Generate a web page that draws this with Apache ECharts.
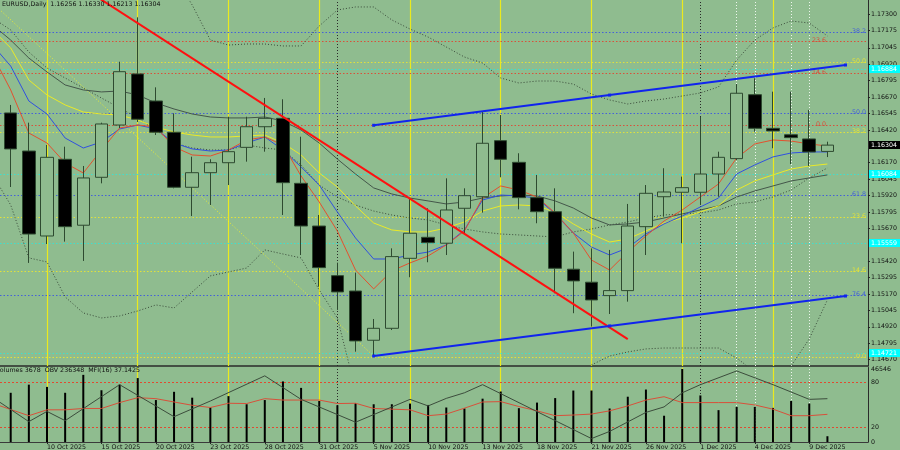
<!DOCTYPE html>
<html><head><meta charset="utf-8">
<script src="https://cdn.jsdelivr.net/npm/echarts@6/dist/echarts.min.js"></script>
<style>html,body{margin:0;padding:0;background:#8fbc8f}#c{width:900px;height:450px}</style>
</head><body><div id="c"></div><script>
const dates = ['7 Oct 2025','8 Oct 2025','9 Oct 2025','10 Oct 2025','13 Oct 2025','14 Oct 2025','15 Oct 2025','16 Oct 2025','17 Oct 2025','20 Oct 2025','21 Oct 2025','22 Oct 2025','23 Oct 2025','24 Oct 2025','27 Oct 2025','28 Oct 2025','29 Oct 2025','30 Oct 2025','31 Oct 2025','3 Nov 2025','4 Nov 2025','5 Nov 2025','6 Nov 2025','7 Nov 2025','10 Nov 2025','11 Nov 2025','12 Nov 2025','13 Nov 2025','14 Nov 2025','17 Nov 2025','18 Nov 2025','19 Nov 2025','20 Nov 2025','21 Nov 2025','24 Nov 2025','25 Nov 2025','26 Nov 2025','27 Nov 2025','28 Nov 2025','1 Dec 2025','2 Dec 2025','3 Dec 2025','4 Dec 2025','5 Dec 2025','8 Dec 2025','9 Dec 2025','10 Dec 2025'];
const open  = [null,1.16549,1.16259,1.15612,1.16196,1.15694,1.16059,1.16457,1.16846,1.16640,1.16402,1.15983,1.16094,1.16170,1.16287,1.16444,1.16508,1.16013,1.15688,1.15310,1.15193,1.14818,1.14909,1.15442,1.15602,1.15557,1.15823,1.15911,1.16338,1.16173,1.15904,1.15797,1.15359,1.15260,1.15158,1.15196,1.15683,1.15911,1.15945,1.15945,1.16084,1.16201,1.16688,1.16432,1.16383,1.16351,1.16256];
const close = [null,1.16275,1.15627,1.16211,1.15683,1.16054,1.16465,1.16863,1.16501,1.16402,1.15983,1.16094,1.16170,1.16254,1.16444,1.16508,1.16018,1.15688,1.15371,1.15186,1.14813,1.14909,1.15455,1.15633,1.15561,1.15810,1.15919,1.16318,1.16196,1.15904,1.15797,1.15366,1.15270,1.15125,1.15196,1.15688,1.15937,1.15947,1.15980,1.16084,1.16211,1.16699,1.16432,1.16412,1.16361,1.16252,1.16304];
const low   = [null,1.15985,1.15407,1.15551,1.15569,1.15422,1.16013,1.16434,1.16480,1.16381,1.15975,1.15764,1.15848,1.16000,1.16178,1.16254,1.15772,1.15467,1.15226,1.15049,1.14731,1.14698,1.14896,1.15298,1.15412,1.15467,1.15633,1.15790,1.16059,1.15815,1.15709,1.15176,1.15024,1.14922,1.15018,1.15112,1.15467,1.15759,1.15557,1.15848,1.15911,1.16191,1.16406,1.16280,1.16160,1.16145,1.16213];
const high  = [null,1.16610,1.16475,1.16305,1.16292,1.16145,1.16475,1.16939,1.17277,1.16744,1.16546,1.16216,1.16196,1.16520,1.16520,1.16663,1.16653,1.16368,1.15772,1.15409,1.15333,1.14980,1.15518,1.15899,1.15823,1.16051,1.15975,1.16559,1.16533,1.16242,1.16077,1.15975,1.15493,1.15518,1.15506,1.15856,1.16000,1.16128,1.16064,1.16518,1.16254,1.16769,1.16813,1.16711,1.16711,1.16572,1.16330];
const maRed    = [1.16990,1.16724,1.16396,1.16320,1.16168,1.16092,1.16267,1.16434,1.16457,1.16442,1.16290,1.16229,1.16221,1.16267,1.16343,1.16366,1.16305,1.16069,1.15871,1.15650,1.15353,1.15209,1.15346,1.15407,1.15460,1.15544,1.15650,1.15901,1.15993,1.15962,1.15909,1.15787,1.15635,1.15429,1.15353,1.15490,1.15612,1.15726,1.15810,1.15909,1.16008,1.16206,1.16313,1.16343,1.16335,1.16313,1.16297];
const maBlue   = [1.17066,1.16906,1.16640,1.16541,1.16358,1.16282,1.16328,1.16427,1.16457,1.16427,1.16320,1.16275,1.16259,1.16267,1.16320,1.16366,1.16267,1.16138,1.16000,1.15795,1.15597,1.15437,1.15437,1.15467,1.15490,1.15544,1.15658,1.15886,1.15924,1.15917,1.15901,1.15780,1.15635,1.15528,1.15467,1.15521,1.15627,1.15704,1.15764,1.15833,1.15901,1.16084,1.16153,1.16214,1.16244,1.16252,1.16252];
const maYellow = [1.17181,1.17044,1.16800,1.16686,1.16610,1.16556,1.16541,1.16533,1.16495,1.16442,1.16404,1.16381,1.16366,1.16366,1.16374,1.16381,1.16320,1.16229,1.16092,1.15985,1.15841,1.15711,1.15658,1.15643,1.15643,1.15673,1.15719,1.15802,1.15841,1.15848,1.15841,1.15795,1.15704,1.15627,1.15566,1.15589,1.15650,1.15711,1.15749,1.15795,1.15841,1.15962,1.16031,1.16077,1.16122,1.16145,1.16160];
const maGray   = [1.17219,1.17104,1.16967,1.16861,1.16762,1.16724,1.16709,1.16716,1.16686,1.16625,1.16579,1.16541,1.16518,1.16511,1.16511,1.16518,1.16488,1.16419,1.16320,1.16198,1.16084,1.15978,1.15932,1.15901,1.15879,1.15856,1.15871,1.15901,1.15917,1.15924,1.15917,1.15879,1.15825,1.15749,1.15696,1.15704,1.15719,1.15749,1.15780,1.15810,1.15841,1.15909,1.15955,1.15993,1.16031,1.16054,1.16077];
const bbUpper  = [null,null,null,null,null,null,null,null,null,1.17828,1.17599,1.17371,1.17104,1.17066,1.17074,1.17074,1.17059,1.17059,1.17211,1.17333,1.17356,1.17356,1.17257,1.17188,1.17127,1.17051,1.16975,1.16929,1.16815,1.16777,1.16792,1.16792,1.16769,1.16693,1.16648,1.16617,1.16640,1.16655,1.16678,1.16701,1.16747,1.16952,1.17104,1.17196,1.17249,1.17234,1.17135];
const bbMiddle = [1.17272,1.17181,1.17013,1.16891,1.16815,1.16739,1.16663,1.16587,1.16511,1.16419,1.16320,1.16282,1.16267,1.16267,1.16305,1.16282,1.16267,1.16153,1.16000,1.15909,1.15848,1.15802,1.15772,1.15749,1.15734,1.15696,1.15665,1.15643,1.15627,1.15620,1.15612,1.15605,1.15643,1.15665,1.15696,1.15719,1.15749,1.15772,1.15780,1.15787,1.15810,1.15856,1.15871,1.15909,1.15962,1.16054,1.16130];
const bbLower  = [1.16077,1.15848,1.15445,1.15414,1.15148,1.15026,1.14988,1.15003,1.15041,1.15087,1.15064,1.15186,1.15308,1.15338,1.15368,1.15506,1.15475,1.15445,1.15201,1.14988,1.14440,null,null,null,null,null,null,null,null,null,null,null,null,1.14630,1.14698,1.14729,1.14752,1.14759,1.14759,1.14759,1.14759,1.14683,1.14577,1.14554,1.14622,1.14828,1.15125];
const volumes = [null,31364,36551,35114,31364,42798,32989,36551,40737,26741,31990,28241,21993,29241,24055,26741,38613,34489,26117,23430,24680,24055,24055,24492,23617,21993,21368,27616,32177,21556,25117,27991,32802,32802,21368,28866,33427,16745,46546,29678,20306,22368,22368,21743,26117,24492,3678];
const obv = [240638,null,159128,193448,162428,null,null,283538,null,null,175628,null,228428,null,null,313238,null,234038,null,null,157148,null,null,234038,211928,237338,256148,283538,null,null,null,null,null,102038,126128,null,190148,208628,256148,283538,null,329738,null,283538,null,234038,236348];
const mfi = [52,43.6,35.3,43.2,43.2,45,45,52.9,59.5,58.2,53.7,49.3,46.3,52,51.6,58.2,56.3,56.3,56.3,51.6,52,45,44.1,43.2,35.3,37.5,45.4,53.7,54.2,47.6,41.8,35.3,36.2,37.5,41.8,48.4,56.3,60.8,52.9,52.9,52.9,52.9,49.7,44.1,35.3,35.3,37.1425];
const priceTicks = [1.17300,1.17175,1.17045,1.16920,1.16795,1.16670,1.16545,1.16420,1.16170,1.16045,1.15920,1.15795,1.15670,1.15420,1.15295,1.15170,1.15045,1.14920,1.14795,1.14670];
const dateTickIdx = [0,3,6,9,12,15,18,21,24,27,30,33,36,39,42,45];
const volTicks = [46546];
const mfiTicks = [80,20,0];
const mfiLevels = [80,20];
const fridayIdx = [3,8,13,18,23,28,33,38,43];
const monthStartIdx = [19,39];
const markedIdx = [41,42,44,45];
const blueFibPrices = [1.17168,1.16549,1.15924,1.15159];
const blueFibLabels = ['38.2','50.0','61.8','76.4'];
const redFibPrices = [1.17097,1.16853,1.16457];
const redFibLabels = ['23.6','14.6','0.0'];
const yellowFibPrices = [1.16937,1.16404,1.15753,1.15349,1.14687];
const yellowFibLabels = ['50.0','38.2','23.6','14.6','0.0'];
const cyanLevels = [1.16884,1.16084,1.15559,1.14721];
const redTrendIdx = [5,35], redTrendPrice = [1.17500,1.14826];
const blueUpIdx = [21,34,47], blueUpPrice = [1.16455,1.16685,1.16914];
const blueLowIdx = [21,34,47], blueLowPrice = [1.14698,1.14927,1.15155];
const yellowTrendIdx = [0,21], yellowTrendPrice = [1.17386,1.14698];

const FONT = '"DejaVu Sans"';
const BG = '#8fbc8f';
const XMIN = 0.4104, XMAX = 48.236;
const pairs = arr => arr.map((v,i)=>[i, v]);
const pts = (xs, ys) => xs.map((x,k)=>[x, ys[k]]);
const candles = open.map((o,i)=> o==null ? null : [i, o, close[i], low[i], high[i]]).filter(Boolean);
const last = dates.length-1;

function levelSeries(prices, labels, color, inset) {
  return {type:'custom', xAxisIndex:0, yAxisIndex:0, silent:true, z:1, clip:false,
    data: prices.map(p=>[1,p]), encode:{x:0,y:1},
    renderItem:(params, api)=>{
      const cs = params.coordSys;
      const y = Math.round(api.coord([api.value(0), api.value(1)])[1]) + 0.5;
      return {type:'group', children:[
        {type:'line', shape:{x1:cs.x, y1:y, x2:cs.x+cs.width, y2:y}, style:{stroke:color, lineWidth:1, lineDash:[1.5,2]}},
        {type:'text', style:{text: labels ? labels[params.dataIndex] : '', x: cs.x+cs.width-inset, y: y+2, align:'right', verticalAlign:'bottom', fill: color, font:'6.3px '+FONT}}
      ]};
    }};
}
function boxSeries(prices, bg, fg) {
  return {type:'custom', xAxisIndex:0, yAxisIndex:0, silent:true, z:20, clip:false,
    data: prices.map(p=>[1,p]), encode:{x:0,y:1},
    renderItem:(params, api)=>{
      const cs = params.coordSys;
      const y = api.coord([api.value(0), api.value(1)])[1];
      const x0 = cs.x+cs.width+1;
      return {type:'group', children:[
        {type:'rect', shape:{x:x0, y:y-4, width:40, height:8}, style:{fill:bg}},
        {type:'text', style:{text: api.value(1).toFixed(5), x:x0+2, y:y, verticalAlign:'middle', fill:fg, font:'6.3px '+FONT}}
      ]};
    }};
}
function vLines() {
  return [
    ...fridayIdx.map(i=>({xAxis:i, lineStyle:{color:'#eaea1e', width:1.2, type:'solid'}})),
    ...monthStartIdx.map(i=>({xAxis:i, lineStyle:{color:'#2a2a2a', width:1, type:[1,2]}})),
    ...markedIdx.map(i=>({xAxis:i, lineStyle:{color:'#eef6ee', width:1, type:[1,2]}}))
  ];
}
const lineS = (data, color, extra={}) => Object.assign({type:'line', xAxisIndex:0, yAxisIndex:0, data, symbol:'none', silent:true, z:2, lineStyle:{color, width:1}}, extra);

const header = 'EURUSD,Daily  ' + [open[last], high[last], low[last], close[last]].map(v=>v.toFixed(5)).join(' ');
const subHeader = 'Volumes ' + volumes[last] + '  OBV ' + obv[last] + '  MFI(16) ' + mfi[last];

const txt = {fontSize:6.3, fontFamily:FONT, color:'#111'};
const chart = echarts.init(document.getElementById('c'), null, {renderer:'canvas'});
chart.setOption({
  animation:false,
  backgroundColor: BG,
  title:[
    {text: header, left:2, top:1, padding:0, textStyle:Object.assign({fontWeight:'normal'}, txt)},
    {text: subHeader, left:-4, top:367, padding:0, textStyle:Object.assign({fontWeight:'normal'}, txt)}
  ],
  grid:[
    {left:0, right:32, top:0, height:366},
    {left:0, right:32, top:367.5, height:76}
  ],
  xAxis:[
    {type:'value', gridIndex:0, min:XMIN, max:XMAX, axisLine:{show:true, onZero:false, lineStyle:{color:'#2b2b2b', width:1.5}}, axisTick:{show:false}, axisLabel:{show:false}, splitLine:{show:false}},
    {type:'value', gridIndex:1, min:XMIN, max:XMAX, axisLine:{show:true, onZero:false, lineStyle:{color:'#3a3a3a', width:1}},
      axisTick:{show:true, customValues:dateTickIdx, length:2, lineStyle:{color:'#222'}},
      axisLabel:Object.assign({customValues:dateTickIdx, formatter:v=>dates[v] || '', align:'left', margin:2}, txt), splitLine:{show:false}}
  ],
  yAxis:[
    {type:'value', gridIndex:0, position:'right', min:1.14622, max:1.17409,
      axisLine:{show:true, lineStyle:{color:'#2b2b2b'}}, axisTick:{show:true, customValues:priceTicks, length:2, lineStyle:{color:'#222'}},
      axisLabel:Object.assign({customValues:priceTicks, formatter:v=>v.toFixed(5), margin:3}, txt), splitLine:{show:false}},
    {type:'value', gridIndex:1, position:'right', min:0, max:47483,
      axisLine:{show:true, lineStyle:{color:'#2b2b2b'}}, axisTick:{show:false},
      axisLabel:Object.assign({customValues:volTicks, formatter:v=>String(v), margin:3}, txt), splitLine:{show:false}},
    {type:'value', gridIndex:1, position:'right', min:0, max:100,
      axisLine:{show:false}, axisTick:{show:false},
      axisLabel:Object.assign({customValues:mfiTicks, formatter:v=>String(v), margin:3}, txt), splitLine:{show:false}},
    {type:'value', gridIndex:1, position:'right', min:90500, max:341300, show:false, splitLine:{show:false}}
  ],
  series:[
    {type:'line', xAxisIndex:0, yAxisIndex:0, data:[], silent:true,
      markLine:{silent:true, symbol:'none', z:1, animation:false, label:{show:false}, data:vLines()}},
    {type:'line', xAxisIndex:1, yAxisIndex:1, data:[], silent:true,
      markLine:{silent:true, symbol:'none', z:1, animation:false, label:{show:false}, data:vLines()}},
    levelSeries(blueFibPrices, blueFibLabels, '#4460d8', 2),
    levelSeries(redFibPrices, redFibLabels, '#d8503a', 42),
    levelSeries(yellowFibPrices, yellowFibLabels, '#e2e23a', 2),
    levelSeries(cyanLevels, null, '#3ee0cf', 2),
    lineS(pairs(bbUpper), '#3a4a3a', {lineStyle:{color:'#3a4a3a', width:1, type:[1,2]}}),
    lineS(pairs(bbMiddle), '#3a4a3a', {lineStyle:{color:'#3a4a3a', width:1, type:[1,2]}}),
    lineS(pairs(bbLower), '#3a4a3a', {lineStyle:{color:'#3a4a3a', width:1, type:[1,2]}}),
    lineS(pts(yellowTrendIdx, yellowTrendPrice), '#eeee30', {lineStyle:{color:'#eeee30', width:1, type:[1,2]}}),
    lineS(pairs(maGray), '#44564a'),
    lineS(pairs(maYellow), '#eaea28'),
    lineS(pairs(maBlue), '#3050e0'),
    lineS(pairs(maRed), '#e4502e'),
    {type:'candlestick', xAxisIndex:0, yAxisIndex:0, data:candles, encode:{x:0, y:[1,2,3,4]}, barWidth:13, silent:true, z:3,
      itemStyle:{color:BG, color0:'#000000', borderColor:'#2e4a30', borderColor0:'#2e4a30', borderWidth:1}},
    lineS(pts(redTrendIdx, redTrendPrice), '#ff1010', {z:4, lineStyle:{color:'#ff1010', width:2}}),
    lineS(pts(blueUpIdx, blueUpPrice), '#1024ee', {z:4, symbol:'rect', symbolSize:3, showSymbol:true, itemStyle:{color:'#1024ee'}, lineStyle:{color:'#1024ee', width:2}}),
    lineS(pts(blueLowIdx, blueLowPrice), '#1024ee', {z:4, symbol:'rect', symbolSize:3, showSymbol:true, itemStyle:{color:'#1024ee'}, lineStyle:{color:'#1024ee', width:2}}),
    boxSeries(cyanLevels, '#00ffff', '#ffffff'),
    boxSeries([close[last]], '#000000', '#ffffff'),
    {type:'bar', xAxisIndex:1, yAxisIndex:1, data:pairs(volumes).filter(d=>d[1]!=null), barWidth:2, silent:true, z:3, itemStyle:{color:'#000'}},
    {type:'line', xAxisIndex:1, yAxisIndex:2, data:pairs(mfi), symbol:'none', silent:true, z:4, lineStyle:{color:'#d8503a', width:1},
      markLine:{silent:true, symbol:'none', z:1, animation:false, label:{show:false}, lineStyle:{color:'#e04a30', width:1, type:[2,2]}, data:mfiLevels.map(v=>({yAxis:v}))}},
    {type:'line', xAxisIndex:1, yAxisIndex:3, data:pairs(obv).filter(d=>d[1]!=null), symbol:'none', silent:true, z:4, lineStyle:{color:'#3c4c3c', width:1}}
  ]
});
</script></body></html>
